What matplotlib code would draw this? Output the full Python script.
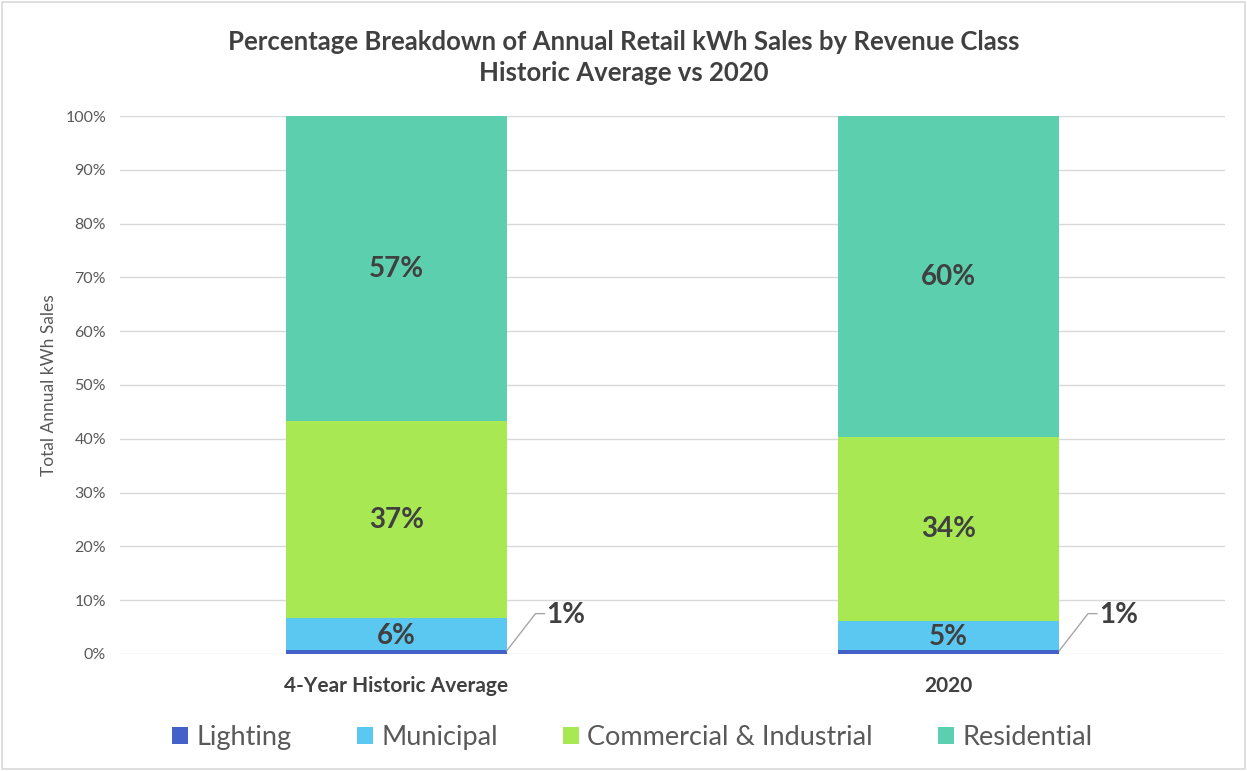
import matplotlib.pyplot as plt
from matplotlib.patches import Rectangle

# share of annual retail kWh sales, in percent
categories = ['4-Year Historic Average', '2020']
lighting = [0.8, 0.8]
municipal = [5.8, 5.3]
commercial = [36.7, 34.2]
residential = [56.7, 59.7]
series_names = ['Lighting', 'Municipal', 'Commercial & Industrial', 'Residential']

colors = ['#4361c9', '#5bc8f2', '#a8e852', '#5ccfae']
text_dark = '#404040'

plt.rcParams['font.family'] = ['Lato', 'DejaVu Sans']

fig = plt.figure(figsize=(12.47, 7.71), dpi=100)
fig.patches.append(Rectangle((0.002, 0.003), 0.996, 0.994, transform=fig.transFigure,
                             fill=False, edgecolor='#d9d9d9', linewidth=1.2))
ax = fig.add_axes([0.0962, 0.1518, 0.8862, 0.6977])

x = list(range(len(categories)))
width = 0.4
bottom = [0.0, 0.0]
series = [lighting, municipal, commercial, residential]
for vals, name, col in zip(series, series_names, colors):
    ax.bar(x, vals, width, bottom=bottom, color=col, label=name, zorder=2)
    bottom = [b + v for b, v in zip(bottom, vals)]

# value labels inside the larger segments
bottom = [0.0, 0.0]
for idx, vals in enumerate(series):
    for i, v in enumerate(vals):
        if idx > 0:
            offset = 0.0 if idx > 1 else -0.3
            ax.text(x[i], bottom[i] + v / 2 + offset, f'{round(v)}%', ha='center', va='center',
                    fontsize=20, fontweight='bold', color=text_dark, zorder=3)
    bottom = [b + v for b, v in zip(bottom, vals)]

# leader lines for the thin lighting slice
for i, v in enumerate(lighting):
    x0 = x[i] + width / 2
    ax.plot([x0, x0 + 0.052, x0 + 0.068], [v / 2 + 0.2, 7.5, 7.5], color='#a6a6a6', lw=1, zorder=3)
    ax.text(x0 + 0.072, 7.3, f'{round(v)}%', ha='left', va='center',
            fontsize=20, fontweight='bold', color=text_dark)

ax.set_xlim(-0.5, 1.5)
ax.set_ylim(0, 100)
ax.set_yticks(range(0, 101, 10))
ax.set_yticklabels([f'{t}%' for t in range(0, 101, 10)])
ax.set_xticks(x)
ax.set_xticklabels(categories, fontsize=15, fontweight='bold', color=text_dark)
ax.tick_params(axis='y', length=0, labelsize=11.5, labelcolor='#595959', pad=10)
ax.tick_params(axis='x', length=0, pad=16)
ax.grid(axis='y', color='#d9d9d9', linewidth=1, zorder=0)
for s in ax.spines.values():
    s.set_visible(False)
ax.set_ylabel('Total Annual kWh Sales', fontsize=12.5, color='#595959', labelpad=6)

fig.text(0.5, 0.945, 'Percentage Breakdown of Annual Retail kWh Sales by Revenue Class',
         ha='center', va='center', fontsize=18.5, fontweight='bold', color=text_dark)
fig.text(0.5, 0.905, 'Historic Average vs 2020',
         ha='center', va='center', fontsize=18.5, fontweight='bold', color=text_dark)

fig.legend(loc='center', bbox_to_anchor=(0.507, 0.043), ncol=4, frameon=False,
           fontsize=19.5, handlelength=0.6, handleheight=0.6, handletextpad=0.3,
           columnspacing=2.4, labelcolor='#595959')

fig.savefig('out.png', dpi=100)
